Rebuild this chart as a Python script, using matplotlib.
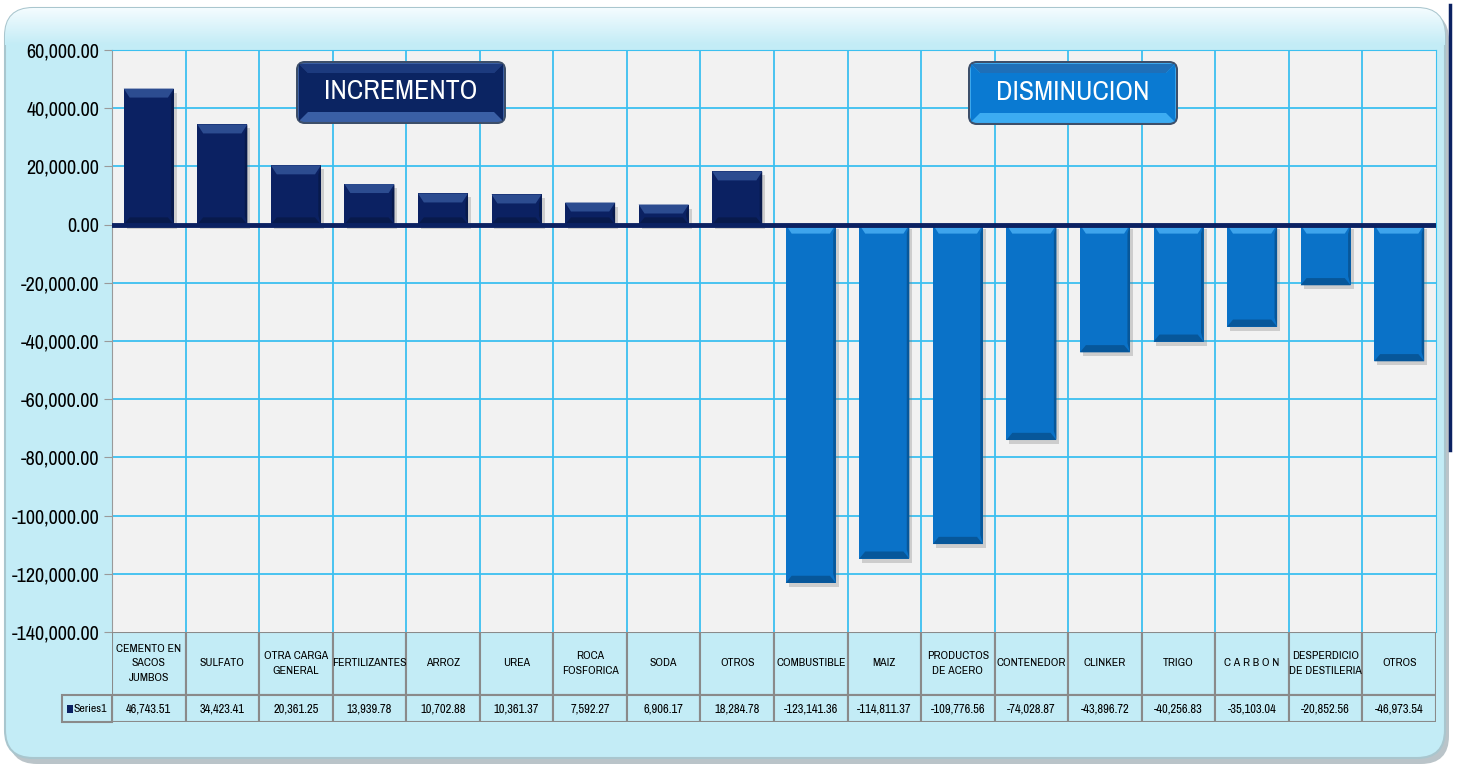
import numpy as np
import matplotlib.pyplot as plt
from matplotlib.patches import FancyBboxPatch, Rectangle, Polygon
from matplotlib.colors import LinearSegmentedColormap

plt.rcParams['font.family'] = ['Archivo Narrow', 'DejaVu Sans']

categorias = ['CEMENTO EN\nSACOS\nJUMBOS', 'SULFATO', 'OTRA CARGA\nGENERAL', 'FERTILIZANTES',
              'ARROZ', 'UREA', 'ROCA\nFOSFORICA', 'SODA', 'OTROS', 'COMBUSTIBLE', 'MAIZ',
              'PRODUCTOS\nDE ACERO', 'CONTENEDOR', 'CLINKER', 'TRIGO', 'C A R B O N',
              'DESPERDICIO\nDE DESTILERIA', 'OTROS']
valores = [46743.51, 34423.41, 20361.25, 13939.78, 10702.88, 10361.37, 7592.27, 6906.17,
           18284.78, -123141.36, -114811.37, -109776.56, -74028.87, -43896.72, -40256.83,
           -35103.04, -20852.56, -46973.54]
serie = 'Series1'
yticks = np.arange(-140000, 60001, 20000)

W, H = 1457, 767
fig = plt.figure(figsize=(W / 100, H / 100), dpi=100)
fig.patch.set_facecolor('white')

def px_axes(x0, y0, x1, y1, **kw):
    # axes from pixel box (top-left origin)
    return fig.add_axes([x0 / W, (H - y1) / H, (x1 - x0) / W, (y1 - y0) / H], **kw)

# marco de fondo
bg = px_axes(0, 0, W, H)
bg.set_xlim(0, W)
bg.set_ylim(H, 0)
bg.axis('off')
bg.add_patch(FancyBboxPatch((9, 12), 1440, 752, boxstyle='round,pad=0,rounding_size=28',
                            fc='#8d9ea5', ec='none', alpha=0.6))
frame = FancyBboxPatch((5, 8), 1440, 750, boxstyle='round,pad=0,rounding_size=28',
                       fc='#c3ecf6', ec='#a9c6ce', lw=1.5)
bg.add_patch(frame)
grad = np.linspace(0, 1, 60).reshape(-1, 1)
im = bg.imshow(grad, extent=(5, 1445, 45, 8), aspect='auto', zorder=1,
               cmap=LinearSegmentedColormap.from_list('g', ['#f4fcff', '#c3ecf6']))
im.set_clip_path(frame)
bg.plot([1450, 1450], [5, 450], color='#0b2162', lw=2.5)

# grafico
ax = px_axes(112, 50, 1436, 632)
ax.set_facecolor('#f2f2f2')
n = len(valores)
x = np.arange(n)
ax.set_xlim(-0.5, n - 0.5)
ax.set_ylim(yticks[0], yticks[-1])
ax.set_yticks(yticks)
ax.set_yticklabels(['{:,.2f}'.format(v) for v in yticks], fontsize=14.5)
ax.set_xticks([])
for s in ['top', 'right']:
    ax.spines[s].set_color('#3cc0f0')
ax.spines['left'].set_color('#9a9a9a')
ax.spines['bottom'].set_visible(False)
ax.tick_params(axis='y', colors='#9a9a9a', length=6, labelcolor='black', pad=3)
for yv in yticks[1:-1]:
    ax.axhline(yv, color='#3cc0f0', lw=1.3, zorder=0)
for i in range(n - 1):
    ax.axvline(i + 0.5, color='#3cc0f0', lw=1.3, zorder=0)

ypx = 582 / (yticks[-1] - yticks[0])
bev = 9 / ypx
bw = 0.68
for i, v in enumerate(valores):
    if v >= 0:
        base, top, dark = '#0b2162', '#2c4c90', '#081a4c'
    else:
        base, top, dark = '#0a72c8', '#3ea4ec', '#07579a'
    l, r = i - bw / 2, i + bw / 2
    lo, hi = min(0, v), max(0, v)
    ax.add_patch(Rectangle((l + 0.04, lo - 4 / ypx), bw, hi - lo, fc='#7a7a7a', alpha=0.3, ec='none', zorder=1))
    ax.bar(i, v, width=bw, color=base, zorder=2)
    dx = 0.08
    ax.add_patch(Polygon([(l, hi), (r, hi), (r - dx, hi - bev), (l + dx, hi - bev)], fc=top, ec='none', zorder=3))
    ax.add_patch(Polygon([(l, lo), (r, lo), (r - dx, lo + bev * 0.8), (l + dx, lo + bev * 0.8)], fc=dark, ec='none', zorder=3))
    ax.add_patch(Polygon([(r, hi), (r, lo), (r - 0.035, lo + bev), (r - 0.035, hi - bev)], fc=dark, ec='none', zorder=3))
ax.axhline(0, color='#0b2162', lw=3.5, zorder=5)

# botones
def boton(x0, y0, x1, y1, texto, outer, inner, light):
    b = px_axes(x0, y0, x1, y1)
    w, h = x1 - x0, y1 - y0
    b.set_xlim(0, w)
    b.set_ylim(0, h)
    b.axis('off')
    b.add_patch(FancyBboxPatch((1, 1), w - 2, h - 2, boxstyle='round,pad=0,rounding_size=8',
                               fc=light, ec='#3d4f6a', lw=1.5))
    b.add_patch(Polygon([(3, h - 3), (w - 3, h - 3), (w - 12, h - 12), (12, h - 12)], fc=outer, ec='none'))
    b.add_patch(Polygon([(3, 3), (12, 12), (12, h - 12), (3, h - 3)], fc=inner, ec='none'))
    b.add_patch(Polygon([(w - 3, 3), (w - 12, 12), (w - 12, h - 12), (w - 3, h - 3)], fc=inner, ec='none'))
    b.add_patch(Rectangle((12, 12), w - 24, h - 24, fc=inner, ec='none'))
    b.text(w / 2, h / 2 + 1, texto, color='white', fontsize=20, ha='center', va='center')

boton(296, 61, 506, 124, 'INCREMENTO', '#1c3a7e', '#0b2462', '#3a5fa5')
boton(968, 61, 1178, 125, 'DISMINUCION', '#1e6fb8', '#0a7ad2', '#3cacf2')

# tabla de datos
tb = px_axes(112, 632, 1436, 722)
tb.set_xlim(-0.5, n - 0.5)
tb.set_ylim(90, 0)
tb.axis('off')
cw = 1324 / n
ec = '#8a8a8a'
for i in range(n):
    tb.add_patch(Rectangle((i - 0.5, 0), 1, 63, fc='#c3ecf6', ec=ec, lw=1.5))
    tb.add_patch(Rectangle((i - 0.5, 63), 1, 27, fc='#c3ecf6', ec=ec, lw=1.5))
    tb.text(i, 31.5, categorias[i], ha='center', va='center', fontsize=8.5, linespacing=1.6)
    tb.text(i, 77, '{:,.2f}'.format(valores[i]), ha='center', va='center', fontsize=9)
sx = -0.5 - 50 / cw
tb.add_patch(Rectangle((sx, 63), 50 / cw, 27, fc='#c3ecf6', ec=ec, lw=1.5, clip_on=False))
tb.add_patch(Rectangle((sx + 5 / cw, 73), 6 / cw, 8, fc='#0b2162', ec='none', clip_on=False))
tb.text(sx + 12 / cw, 77, serie, ha='left', va='center', fontsize=8.5, clip_on=False)

fig.savefig('out.png', dpi=100, facecolor='white')
